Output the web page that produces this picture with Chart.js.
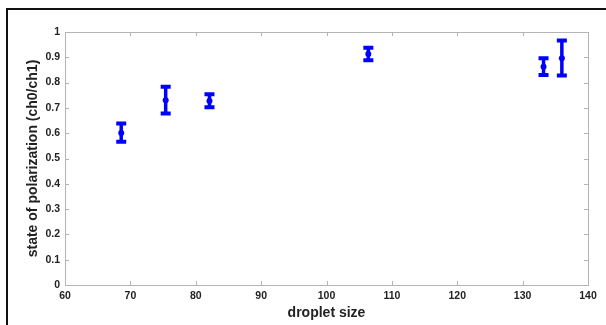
<!DOCTYPE html>
<html>
<head>
<meta charset="utf-8">
<script src="https://cdn.jsdelivr.net/npm/chart.js@4/dist/chart.umd.min.js"></script>
<style>
  html, body { margin: 0; padding: 0; background: #fff; }
  #wrap { width: 606px; height: 325px; position: relative; }
</style>
</head>
<body>
<div id="wrap"><canvas id="c" width="606" height="325"></canvas></div>
<script>
// Data
const dropletSize = [68.6, 75.4, 82.1, 106.4, 133.2, 136.0];
const polarization = [0.601, 0.730, 0.727, 0.913, 0.863, 0.896];
const errLow = [0.566, 0.678, 0.703, 0.888, 0.830, 0.828];
const errHigh = [0.638, 0.784, 0.754, 0.938, 0.896, 0.966];
const xTicks = [60, 70, 80, 90, 100, 110, 120, 130, 140];
const yTicks = [0, 0.1, 0.2, 0.3, 0.4, 0.5, 0.6, 0.7, 0.8, 0.9, 1];

const BLUE = '#0000ff';
const AXIS = '#b4b4b4';
const FONT = "'Liberation Sans', Arial, sans-serif";

const decor = {
  id: 'decor',
  beforeDraw(chart) {
    const ctx = chart.ctx;
    ctx.save();
    ctx.fillStyle = '#fff';
    ctx.fillRect(0, 0, chart.width, chart.height);
    ctx.restore();
  },
  afterDatasetsDraw(chart) {
    const ctx = chart.ctx;
    const xs = chart.scales.x, ys = chart.scales.y;
    ctx.save();
    ctx.strokeStyle = BLUE;
    ctx.lineCap = 'butt';
    for (let i = 0; i < dropletSize.length; i++) {
      const px = xs.getPixelForValue(dropletSize[i]);
      const pLo = ys.getPixelForValue(errLow[i]);
      const pHi = ys.getPixelForValue(errHigh[i]);
      ctx.lineWidth = 3.5;
      ctx.beginPath();
      ctx.moveTo(px, pLo);
      ctx.lineTo(px, pHi);
      ctx.stroke();
      ctx.lineWidth = 4;
      ctx.beginPath();
      ctx.moveTo(px - 5, pLo); ctx.lineTo(px + 5, pLo);
      ctx.moveTo(px - 5, pHi); ctx.lineTo(px + 5, pHi);
      ctx.stroke();
    }
    ctx.restore();
  },
  afterDraw(chart) {
    const ctx = chart.ctx;
    const a = chart.chartArea;
    const xs = chart.scales.x, ys = chart.scales.y;
    ctx.save();
    // axis box
    ctx.strokeStyle = AXIS;
    ctx.lineWidth = 1;
    ctx.strokeRect(Math.round(a.left) + 0.5, Math.round(a.top) + 0.5,
                   Math.round(a.right - a.left), Math.round(a.bottom - a.top));
    // inward ticks
    ctx.beginPath();
    xTicks.forEach(v => {
      const p = Math.round(xs.getPixelForValue(v)) + 0.5;
      ctx.moveTo(p, a.bottom); ctx.lineTo(p, a.bottom - 4);
      ctx.moveTo(p, a.top); ctx.lineTo(p, a.top + 4);
    });
    yTicks.forEach(v => {
      const p = Math.round(ys.getPixelForValue(v)) + 0.5;
      ctx.moveTo(a.left, p); ctx.lineTo(a.left + 4, p);
      ctx.moveTo(a.right, p); ctx.lineTo(a.right - 4, p);
    });
    ctx.stroke();
    // outer black frame (left and top)
    ctx.fillStyle = '#111';
    ctx.fillRect(6, 8, 2, chart.height - 8);
    ctx.fillRect(6, 8, chart.width - 6, 2);
    ctx.restore();
  }
};

new Chart(document.getElementById('c'), {
  type: 'scatter',
  data: {
    datasets: [{
      data: dropletSize.map((x, i) => ({ x: x, y: polarization[i] })),
      backgroundColor: BLUE,
      borderColor: BLUE,
      pointRadius: 3,
      pointHoverRadius: 3,
      pointStyle: 'circle',
      borderWidth: 0
    }]
  },
  options: {
    responsive: false,
    animation: false,
    devicePixelRatio: 1,
    layout: { padding: { left: 0, top: 32, right: 18, bottom: 0 } },
    plugins: { legend: { display: false }, tooltip: { enabled: false } },
    scales: {
      x: {
        type: 'linear',
        min: 60, max: 140,
        afterBuildTicks(s) { s.ticks = xTicks.map(v => ({ value: v })); },
        afterFit(s) { s.height = 40; },
        grid: { display: false, drawTicks: false },
        border: { display: false },
        ticks: {
          padding: 5,
          color: '#222',
          font: { family: FONT, size: 10.5, weight: 'bold' },
          maxRotation: 0,
          callback: v => String(v)
        },
        title: {
          display: true,
          text: 'droplet size',
          color: '#222',
          padding: { top: 0, bottom: 3 },
          font: { family: FONT, size: 14, weight: 'bold' }
        }
      },
      y: {
        type: 'linear',
        min: 0, max: 1,
        afterBuildTicks(s) { s.ticks = yTicks.map(v => ({ value: v })); },
        afterFit(s) { s.width = 65; },
        grid: { display: false, drawTicks: false },
        border: { display: false },
        ticks: {
          padding: 5,
          color: '#222',
          font: { family: FONT, size: 10.5, weight: 'bold' },
          callback: v => String(Math.round(v * 10) / 10)
        },
        title: {
          display: true,
          text: 'state of polarization (ch0/ch1)',
          color: '#222',
          padding: { top: 25, bottom: 0 },
          font: { family: FONT, size: 14, weight: 'bold' }
        }
      }
    }
  },
  plugins: [decor]
});
</script>
</body>
</html>
